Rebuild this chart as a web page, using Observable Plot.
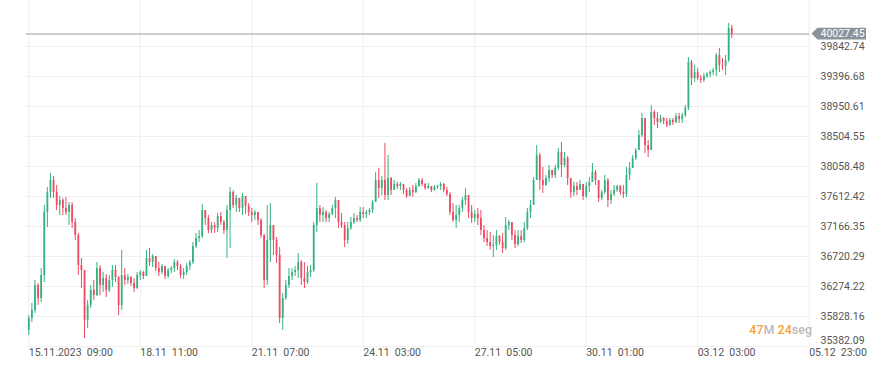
<!DOCTYPE html>
<html>
<head>
<meta charset="utf-8">
<script src="https://cdn.jsdelivr.net/npm/d3@7"></script>
<script src="https://cdn.jsdelivr.net/npm/@observablehq/plot@0.6"></script>
<style>
  html, body { margin: 0; padding: 0; background: #fff; }
  #chart svg { display: block; }
</style>
</head>
<body>
<div id="chart"></div>
<script>
// ---- Data (candles) ----
const open = [
  35620, 35798, 35917, 36289, 36096, 36438, 37375, 37672, 37850, 37672, 37479, 37553, 37434, 37375, 37479, 37226, 37032, 36586, 36512, 35769, 35992, 36215, 36140, 36542, 36289, 36393, 36215, 36363, 36512, 36408, 35992, 36438, 36363, 36408, 36319, 36244,
  36438, 36482, 36423, 36691, 36631, 36720, 36542, 36482, 36572, 36423, 36512, 36542, 36631, 36572, 36438, 36482, 36572, 36631, 36869, 36988, 37018, 37404, 37285, 37107, 37181, 37137, 37315, 37226, 37107, 37404, 37672, 37479, 37583, 37434, 37612, 37464,
  37375, 37330, 37375, 37256, 37032, 36363, 36958, 37181, 36958, 36735, 35798, 36096, 36289, 36423, 36482, 36512, 36631, 36393, 36334, 36482, 36512, 37181, 37434, 37330, 37375, 37285, 37345, 37434, 37553, 37226, 37181, 36958, 37137, 37226, 37285, 37256,
  37375, 37345, 37375, 37404, 37523, 37850, 37731, 37850, 37627, 37880, 37702, 37791, 37761, 37791, 37702, 37612, 37702, 37672, 37761, 37850, 37791, 37731, 37761, 37702, 37746, 37761, 37791, 37702, 37642, 37375, 37256, 37330, 37434, 37553, 37627, 37375,
  37285, 37345, 37285, 37107, 36988, 36928, 36869, 36884, 37018, 36928, 36839, 37181, 37226, 37032, 36899, 37018, 36958, 37137, 37375, 37479, 37850, 38222, 37850, 37776, 37880, 37999, 37925, 38029, 38267, 38073, 38177, 37880, 37672, 37761, 37702, 37791,
  37612, 37761, 37821, 37969, 37850, 37583, 37672, 37850, 37553, 37642, 37702, 37761, 37672, 37642, 37925, 38029, 38177, 38296, 38519, 38772, 38371, 38296, 38862, 38772, 38713, 38772, 38728, 38668, 38743, 38713, 38802, 38757, 38817, 38921, 39605, 39367,
  39456, 39367, 39337, 39397, 39427, 39456, 39486, 39709, 39560, 39546, 39635, 40111
];
const high = [
  35843, 36021, 36363, 36319, 36542, 37479, 37746, 37954, 37910, 37776, 37612, 37583, 37598, 37523, 37523, 37285, 37062, 36691, 36512, 36066, 36289, 36363, 36631, 36586, 36482, 36453, 36438, 36586, 36586, 36423, 36810, 36542, 36453, 36423, 36393, 36482,
  36512, 36497, 36810, 36839, 36750, 36720, 36631, 36601, 36572, 36542, 36572, 36676, 36661, 36601, 36542, 36616, 36661, 36928, 37062, 37107, 37494, 37404, 37330, 37226, 37226, 37360, 37375, 37256, 37479, 37746, 37702, 37627, 37583, 37657, 37612, 37508,
  37434, 37404, 37375, 37285, 37047, 37479, 37508, 37181, 37003, 36854, 36170, 36363, 36542, 36542, 36572, 36765, 36661, 36631, 36572, 36586, 37226, 37806, 37479, 37449, 37404, 37375, 37479, 37598, 37553, 37360, 37226, 37226, 37300, 37360, 37330, 37449,
  37449, 37404, 37434, 37553, 37969, 38029, 37910, 38401, 38222, 37895, 37850, 37821, 37821, 37791, 37731, 37746, 37776, 37806, 37880, 37880, 37806, 37806, 37761, 37776, 37776, 37821, 37806, 37746, 37672, 37508, 37479, 37479, 37598, 37731, 37627, 37479,
  37404, 37434, 37404, 37181, 37107, 37077, 37032, 37107, 37032, 37062, 37300, 37256, 37226, 37107, 37107, 37107, 37226, 37434, 37553, 37895, 38371, 38252, 38044, 37925, 38073, 37999, 38073, 38326, 38415, 38267, 38207, 37880, 37821, 37821, 37850, 37791,
  37821, 37895, 38103, 37999, 37850, 37702, 37925, 37880, 37702, 37776, 37776, 37776, 37776, 38044, 38118, 38222, 38326, 38594, 38847, 38772, 38445, 38966, 38891, 38862, 38817, 38787, 38772, 38772, 38772, 38847, 38847, 38847, 38966, 39679, 39635, 39560,
  39516, 39412, 39442, 39456, 39486, 39516, 39739, 39813, 39665, 39709, 40185, 40155
];
const low = [
  35546, 35739, 35873, 35992, 36036, 36334, 37151, 37583, 37583, 37404, 37330, 37330, 37330, 37181, 37137, 36958, 36438, 36244, 35501, 35650, 35947, 36066, 36125, 36140, 36185, 36111, 36185, 36259, 36334, 35843, 35917, 36289, 36304, 36274, 36185, 36230,
  36363, 36378, 36423, 36572, 36557, 36497, 36423, 36453, 36378, 36393, 36467, 36482, 36512, 36393, 36378, 36438, 36512, 36601, 36839, 36928, 36988, 37181, 37062, 37062, 37062, 37077, 37181, 37047, 36691, 36839, 37434, 37375, 37375, 37330, 37345, 37315,
  37226, 37256, 37181, 36988, 36244, 36289, 36631, 36735, 36616, 35724, 35620, 36066, 36244, 36363, 36423, 36393, 36289, 36244, 36304, 36408, 36482, 37077, 37226, 37226, 37226, 37226, 37330, 37285, 37137, 37137, 36854, 36899, 37107, 37196, 37226, 37226,
  37285, 37285, 37330, 37360, 37523, 37583, 37627, 37553, 37553, 37627, 37702, 37717, 37702, 37642, 37583, 37612, 37598, 37657, 37746, 37761, 37702, 37717, 37672, 37687, 37717, 37702, 37672, 37612, 37330, 37226, 37137, 37226, 37375, 37479, 37285, 37211,
  37226, 37181, 37032, 36928, 36869, 36810, 36705, 36810, 36884, 36765, 36810, 37107, 36958, 36839, 36869, 36914, 36928, 37107, 37285, 37479, 37850, 37702, 37657, 37761, 37821, 37880, 37880, 37999, 37895, 38044, 37776, 37583, 37612, 37627, 37702, 37553,
  37583, 37672, 37821, 37776, 37523, 37553, 37642, 37449, 37494, 37612, 37672, 37627, 37583, 37598, 37850, 38029, 38148, 38296, 38490, 38252, 38192, 38296, 38668, 38624, 38698, 38683, 38638, 38653, 38668, 38698, 38698, 38698, 38787, 38891, 39263, 39308,
  39337, 39293, 39308, 39367, 39382, 39412, 39397, 39456, 39486, 39412, 39605, 39962
];
const close = [
  35798, 35917, 36289, 36096, 36438, 37375, 37672, 37850, 37672, 37479, 37553, 37434, 37375, 37479, 37226, 37032, 36586, 36512, 35769, 35992, 36215, 36140, 36542, 36289, 36393, 36215, 36363, 36512, 36408, 35992, 36438, 36363, 36408, 36319, 36244, 36438,
  36482, 36423, 36691, 36631, 36720, 36542, 36482, 36572, 36423, 36512, 36542, 36631, 36572, 36438, 36482, 36572, 36631, 36869, 36988, 37018, 37404, 37285, 37107, 37181, 37137, 37315, 37226, 37107, 37404, 37672, 37479, 37583, 37434, 37612, 37464, 37375,
  37330, 37375, 37256, 37032, 36363, 36958, 37181, 36958, 36735, 35798, 36096, 36289, 36423, 36482, 36512, 36631, 36393, 36334, 36482, 36512, 37181, 37434, 37330, 37375, 37285, 37345, 37434, 37553, 37226, 37181, 36958, 37137, 37226, 37285, 37256, 37375,
  37345, 37375, 37404, 37523, 37850, 37731, 37850, 37627, 37880, 37702, 37791, 37761, 37791, 37702, 37612, 37702, 37672, 37761, 37850, 37791, 37731, 37761, 37702, 37746, 37761, 37791, 37702, 37642, 37375, 37256, 37330, 37434, 37553, 37627, 37375, 37285,
  37345, 37285, 37107, 36988, 36928, 36869, 36884, 37018, 36928, 36839, 37181, 37226, 37032, 36899, 37018, 36958, 37137, 37375, 37479, 37850, 38222, 37850, 37776, 37880, 37999, 37925, 38029, 38267, 38073, 38177, 37880, 37672, 37761, 37702, 37791, 37612,
  37761, 37821, 37969, 37850, 37583, 37672, 37850, 37553, 37642, 37702, 37761, 37672, 37642, 37925, 38029, 38177, 38296, 38519, 38772, 38371, 38296, 38862, 38772, 38713, 38772, 38728, 38668, 38743, 38713, 38802, 38757, 38817, 38921, 39605, 39367, 39456,
  39367, 39337, 39397, 39427, 39456, 39486, 39709, 39560, 39546, 39635, 40111, 40027.45
];
const lastPrice = 40027.45;
const lastPriceLabel = "40027.45";

const yTickLabels = ["35382.09", "35828.16", "36274.22", "36720.29", "37166.35", "37612.42",
                     "38058.48", "38504.55", "38950.61", "39396.68", "39842.74"];
const xTickIndex = [0, 36, 72, 108, 144, 180, 216, 252];
const xTickLabels = ["15.11.2023  09:00", "18.11  11:00", "21.11  07:00", "24.11  03:00",
                     "27.11  05:00", "30.11  01:00", "03.12  03:00", "05.12  23:00"];
const countdown = [["47", "num"], ["M ", "unit"], ["24", "num"], ["seg", "unit"]];

// ---- Build ----
const candles = close.map((c, i) => ({i, open: open[i], high: high[i], low: low[i], close: c}));
const yTicks = yTickLabels.map((s) => ({v: +s, label: s}));
const UP = "#35b37e", DOWN = "#ee4a63";
const col = (d) => (d.close >= d.open ? UP : DOWN);

const plot = Plot.plot({
  width: 889,
  height: 379,
  marginLeft: 26,
  marginRight: 80,
  marginTop: 0,
  marginBottom: 33,
  x: {type: "linear", domain: [-0.74, 252.1], axis: null},
  y: {domain: [35382.09, 40526.7], axis: null},
  color: {type: "identity"},
  style: {fontFamily: "Roboto, 'Noto Sans', sans-serif", fontSize: "10.5px", color: "#555", background: "#fff", overflow: "visible"},
  marks: [
    Plot.ruleY(yTicks, {y: "v", stroke: "#efefef", strokeWidth: 1}),
    Plot.ruleX(xTickIndex, {x: (d) => d, stroke: "#efefef", strokeWidth: 1}),
    Plot.ruleY([lastPrice], {stroke: "#b8bdc1", strokeWidth: 1.5}),
    Plot.ruleX(candles, {x: "i", y1: "low", y2: "high", stroke: col, strokeWidth: 1}),
    Plot.ruleX(candles, {x: "i", y1: "open", y2: "close", stroke: col, strokeWidth: 1.8}),
    Plot.text(yTicks.slice(1), {y: "v", text: "label", frameAnchor: "right", dx: 11, textAnchor: "start", fill: "#555"}),
    Plot.text(yTicks.slice(0, 1), {y: "v", text: "label", frameAnchor: "right", dx: 11, dy: -6, textAnchor: "start", fill: "#555"}),
    Plot.text(xTickIndex, {x: (d) => d, text: (d, i) => xTickLabels[i], frameAnchor: "bottom", dy: 6.5, textAnchor: "start", lineAnchor: "middle", fill: "#555"})
  ]
});
document.getElementById("chart").appendChild(plot);

// Current price tag (positioned through Plot's y scale)
const NS = "http://www.w3.org/2000/svg";
const yPix = plot.scale("y").apply(lastPrice);
const xRight = 889 - 80;
const half = 5.8;
const tag = document.createElementNS(NS, "g");
tag.setAttribute("text-anchor", "start");
const shape = document.createElementNS(NS, "path");
shape.setAttribute("d", `M${xRight + 2.5},${yPix} L${xRight + 8.5},${yPix - half} L${xRight + 57},${yPix - half} L${xRight + 57},${yPix + half} L${xRight + 8.5},${yPix + half} Z`);
shape.setAttribute("fill", "#8a9399");
tag.appendChild(shape);
const tagText = document.createElementNS(NS, "text");
tagText.setAttribute("x", xRight + 11.5);
tagText.setAttribute("y", yPix);
tagText.setAttribute("dy", "0.35em");
tagText.setAttribute("text-anchor", "start");
tagText.setAttribute("fill", "#ffffff");
tagText.setAttribute("font-size", "10.5px");
tagText.setAttribute("font-family", "Roboto, sans-serif");
tagText.textContent = lastPriceLabel;
tag.appendChild(tagText);
plot.appendChild(tag);

// Countdown text
const cd = d3.select(plot).append("text")
  .attr("x", xRight + 3).attr("y", 330).attr("dy", "0.35em")
  .attr("text-anchor", "end")
  .attr("font-size", "12.5px")
  .attr("font-family", "Roboto, sans-serif")
  .attr("font-weight", 500);
countdown.forEach(([t, k]) => {
  cd.append("tspan").attr("fill", k === "num" ? "#f7a233" : "#b9b9b9").text(t);
});
</script>
</body>
</html>
